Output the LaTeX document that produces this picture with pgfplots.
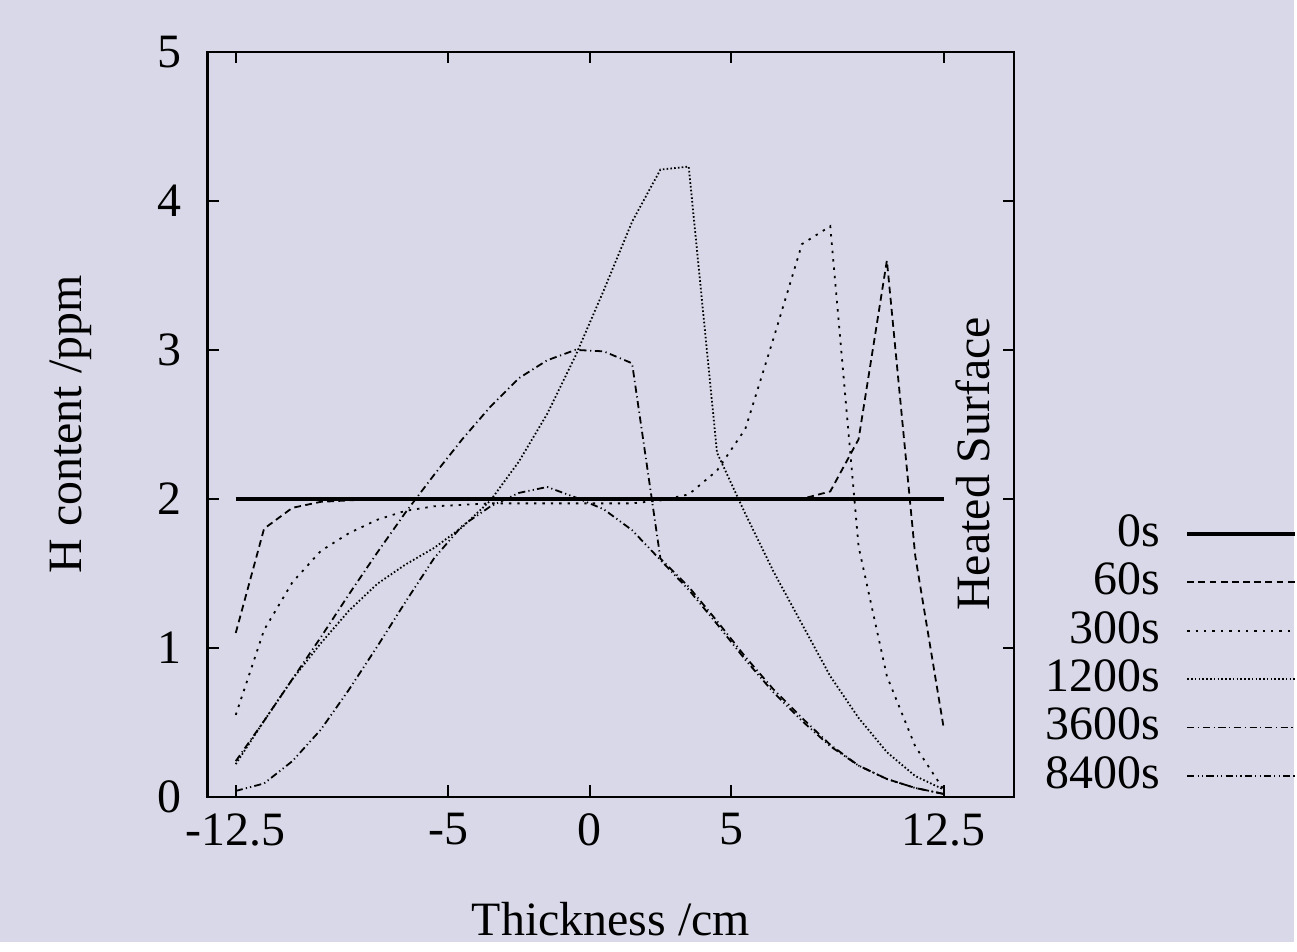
\documentclass[12pt,border=0pt]{standalone}
\usepackage{fontspec}
\setmainfont{Liberation Serif}
\usepackage{pgfplots}
\pgfplotsset{compat=1.18}
\usepackage{pgfplotstable}
\definecolor{bg}{RGB}{216,216,232}

% H content across the slab, one column per time
\pgfplotstableread{
x     s0   s60  s300 s1200 s3600 s8400
-12.5 2.00 1.10 0.55 0.22 0.24 0.04
-11.5 2.00 1.80 1.12 0.51 0.51 0.09
-10.5 2.00 1.94 1.44 0.79 0.79 0.24
-9.5  2.00 1.98 1.65 1.03 1.07 0.45
-8.5  2.00 1.99 1.77 1.25 1.36 0.72
-7.5  2.00 2.00 1.86 1.43 1.64 1.01
-6.5  2.00 2.00 1.92 1.56 1.91 1.31
-5.5  2.00 2.00 1.95 1.67 2.16 1.60
-4.5  2.00 2.00 1.96 1.81 2.40 1.82
-3.5  2.00 2.00 1.97 1.99 2.62 1.95
-2.5  2.00 2.00 1.97 2.25 2.81 2.04
-1.5  2.00 2.00 1.97 2.57 2.93 2.08
-0.5  2.00 2.00 1.97 2.96 3.00 2.01
0.5   2.00 2.00 1.97 3.40 2.99 1.93
1.5   2.00 2.00 1.97 3.86 2.91 1.79
2.5   2.00 2.00 1.99 4.21 1.60 1.59
3.5   2.00 2.00 2.03 4.23 1.41 1.39
4.5   2.00 2.00 2.19 2.31 1.18 1.16
5.5   2.00 2.00 2.47 1.90 0.94 0.92
6.5   2.00 2.00 3.08 1.51 0.72 0.70
7.5   2.00 2.00 3.71 1.16 0.53 0.51
8.5   2.00 2.05 3.83 0.81 0.35 0.34
9.5   2.00 2.40 1.68 0.53 0.21 0.21
10.5  2.00 3.60 0.81 0.30 0.12 0.12
11.5  2.00 1.62 0.34 0.14 0.06 0.06
12.5  2.00 0.47 0.05 0.05 0.02 0.02
}\hdata

\begin{document}
\begin{tikzpicture}
\fill[bg] (-52pt,-36.5pt) rectangle (272.25pt,199.75pt);
\begin{axis}[
  at={(0pt,0pt)}, anchor=south west,
  scale only axis, width=202.25pt, height=186.75pt,
  xmin=-13.5, xmax=15, ymin=0, ymax=5,
  xtick={-12.5,-5,0,5,12.5}, xticklabels={-12.5,-5,0,5,12.5},
  ytick={0,1,2,3,4,5}, yticklabels={0,1,2,3,4,5},
  tick align=inside, major tick length=2.9pt,
  axis line style={line width=0.6pt},
  every tick/.style={black, line width=0.5pt},
  yticklabel style={xshift=-2.25pt},
  xlabel={Thickness /cm}, ylabel={H content /ppm},
  every axis x label/.style={at={(axis description cs:0.5,-0.1861)}, anchor=base},
  every axis y label/.style={at={(axis description cs:-0.1557,0.5)}, rotate=90, anchor=base},
  legend plot pos=right, legend cell align=right,
  legend image code/.code={\draw[#1] (0pt,0pt) -- (27pt,0pt);},
  legend style={draw=none, fill=none, at={(axis description cs:1.0383,0.3802)},
    anchor=north west, inner sep=0pt, row sep=2.35pt, column sep=6.25pt,
    nodes={inner sep=0pt}},
  every axis plot/.append style={black, line width=0.45pt},
]
\addplot[line width=1pt] table[x=x, y=s0] {\hdata};
\addplot[dash pattern=on 1.7pt off 1.1pt] table[x=x, y=s60] {\hdata};
\addplot[dash pattern=on 0.6pt off 1.5pt] table[x=x, y=s300] {\hdata};
\addplot[dash pattern=on 0.4pt off 0.55pt] table[x=x, y=s1200] {\hdata};
\addplot[dash pattern=on 1.8pt off 0.9pt on 0.3pt off 0.9pt] table[x=x, y=s3600] {\hdata};
\addplot[dash pattern=on 1.8pt off 0.8pt on 0.3pt off 0.8pt on 0.3pt off 0.8pt] table[x=x, y=s8400] {\hdata};
\legend{0s,60s,300s,1200s,3600s,8400s}
\node[rotate=90, anchor=base] at (axis cs:14.12,2.236) {Heated Surface};
\end{axis}
\end{tikzpicture}
\end{document}
